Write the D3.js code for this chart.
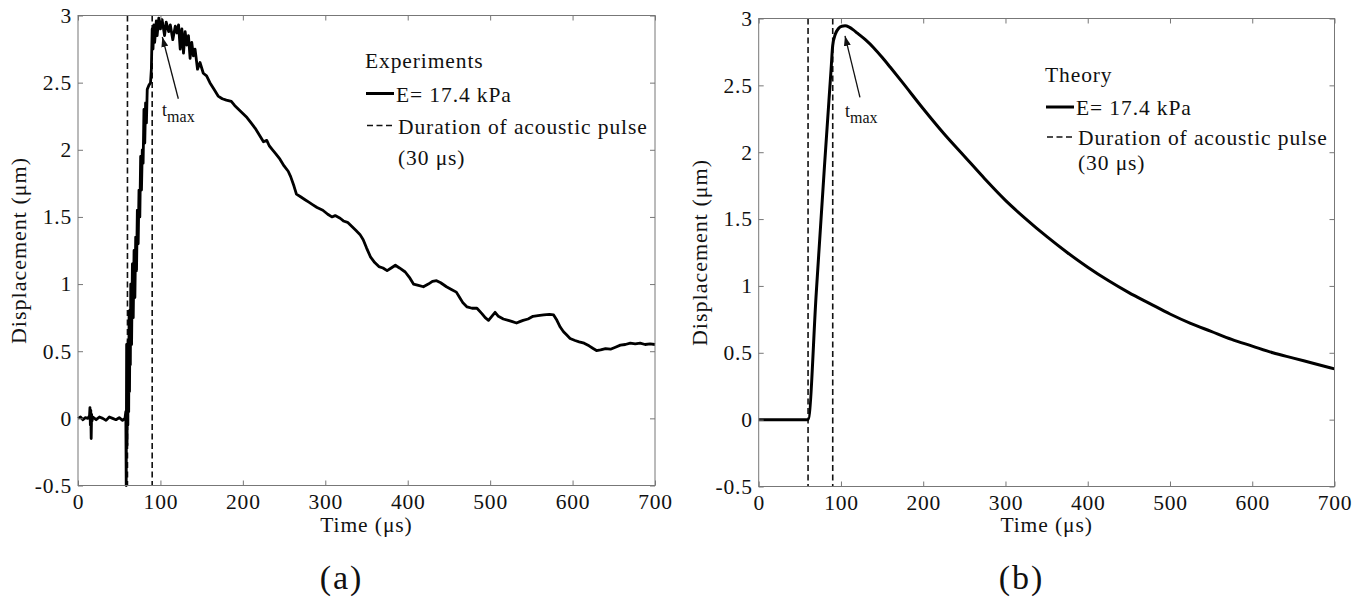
<!DOCTYPE html>
<html>
<head>
<meta charset="utf-8">
<script src="https://cdn.jsdelivr.net/npm/d3@7/dist/d3.min.js"></script>
<style>
  body { margin: 0; background: #fff; }
  svg text { font-family: "Liberation Serif", "Times New Roman", serif; fill: #111; }
</style>
</head>
<body>
<svg id="fig" width="1369" height="604"></svg>
<script>
// 刻度
const xTicks = [0, 100, 200, 300, 400, 500, 600, 700];
const yTicks = [-0.5, 0, 0.5, 1, 1.5, 2, 2.5, 3];
const yTickLabels = ["-0.5", "0", "0.5", "1", "1.5", "2", "2.5", "3"];

// 声脉冲起止时间 (μs)
const pulseLines = [60, 90];

// 实验曲线 [时间 μs, 位移 μm]
const experimentData = [
  [0, 0], [3, 0.01], [6, -0.01], [9, 0.005], [12, 0], [14, 0.02], [14.5, 0.08], [15, -0.05],
  [15.5, 0.06], [16, -0.15], [16.5, 0.03], [17, -0.02], [18, 0.01], [22, -0.01], [26, 0.01],
  [30, 0], [34, -0.015], [38, 0.01], [42, 0], [46, -0.01], [50, 0.005], [54, -0.015], [57, 0],
  [58, 0.05], [58.5, -0.5], [59, 0.55], [59.5, -0.2], [60, 0.5], [60.5, -0.05], [61, 0.58],
  [61.5, 0.05], [62, 0.8], [62.5, 0.2], [63, 0.7], [63.5, 0.4], [64, 1.0], [65, 0.55], [66, 1.15],
  [67, 0.75], [68, 1.25], [69, 0.9], [70, 1.35], [71, 1.1], [72, 1.55], [73, 1.3], [74, 1.7],
  [75, 1.5], [76, 1.95], [77, 1.7], [78, 2.0], [79, 1.9], [80, 2.3], [81, 2.05], [82, 2.35],
  [83, 2.2], [84, 2.45], [86, 2.48], [88, 2.5], [89, 2.6], [90, 2.9], [91, 2.75], [92, 2.93],
  [93, 2.8], [95, 2.96], [96, 2.85], [98, 2.98], [100, 2.9], [102, 2.97], [105, 2.85], [107, 2.95],
  [110, 2.88], [112, 2.93], [115, 2.82], [118, 2.92], [120, 2.87], [122, 2.93], [124, 2.75],
  [126, 2.9], [128, 2.72], [130, 2.88], [132, 2.78], [134, 2.85], [136, 2.68], [138, 2.8],
  [140, 2.7], [142, 2.75], [145, 2.6], [148, 2.65], [152, 2.57], [156, 2.55], [160, 2.5],
  [165, 2.45], [170, 2.4], [175, 2.38], [180, 2.37], [186, 2.36], [190, 2.33], [195, 2.3],
  [200, 2.27], [205, 2.24], [210, 2.2], [215, 2.16], [220, 2.11], [225, 2.06], [229, 2.07],
  [232, 2.03], [236, 2.0], [240, 1.97], [245, 1.93], [250, 1.88], [255, 1.84], [258, 1.8],
  [262, 1.73], [265, 1.67], [270, 1.65], [275, 1.63], [280, 1.61], [285, 1.59], [290, 1.57],
  [297, 1.55], [303, 1.52], [308, 1.5], [312, 1.51], [318, 1.49], [322, 1.47], [327, 1.46],
  [332, 1.43], [337, 1.4], [342, 1.37], [346, 1.33], [350, 1.27], [355, 1.2], [360, 1.16],
  [365, 1.13], [370, 1.12], [375, 1.1], [380, 1.12], [385, 1.14], [390, 1.12], [397, 1.09],
  [402, 1.05], [407, 1.0], [413, 0.99], [419, 0.98], [425, 1.0], [430, 1.02], [435, 1.025],
  [440, 1.01], [447, 0.98], [453, 0.96], [459, 0.94], [463, 0.9], [467, 0.86], [472, 0.83],
  [478, 0.82], [484, 0.82], [490, 0.78], [494, 0.75], [498, 0.73], [502, 0.76], [506, 0.79],
  [510, 0.76], [516, 0.74], [522, 0.73], [527, 0.72], [532, 0.71], [536, 0.72], [540, 0.73],
  [546, 0.74], [552, 0.76], [558, 0.765], [565, 0.77], [572, 0.775], [577, 0.77], [581, 0.73],
  [585, 0.68], [589, 0.645], [593, 0.62], [597, 0.595], [603, 0.58], [608, 0.57], [614, 0.56],
  [620, 0.54], [625, 0.52], [629, 0.505], [634, 0.51], [640, 0.52], [646, 0.515], [652, 0.53],
  [658, 0.545], [664, 0.55], [670, 0.56], [676, 0.555], [682, 0.56], [688, 0.55], [694, 0.555],
  [700, 0.55]
];

// 理论曲线 [时间 μs, 位移 μm]
const theoryData = [
  [0, 0], [60, 0], [70, 0.95], [80, 1.9], [88, 2.62], [90, 2.8], [93, 2.88], [97, 2.925],
  [101, 2.942], [105, 2.945], [110, 2.935], [115, 2.915], [120, 2.89], [130, 2.84], [140, 2.78],
  [150, 2.71], [160, 2.635], [175, 2.52], [200, 2.325], [225, 2.14], [250, 1.97], [275, 1.8],
  [300, 1.64], [325, 1.5], [350, 1.37], [375, 1.25], [400, 1.14], [425, 1.04], [450, 0.95],
  [475, 0.87], [500, 0.79], [525, 0.72], [550, 0.66], [575, 0.6], [600, 0.55], [625, 0.5],
  [650, 0.46], [675, 0.42], [700, 0.38]
];

// t_max 标注 (数据坐标)
const arrowA = { head: [102.3, 2.84], tail: [121.7, 2.38], label: [102, 2.25] };
const arrowB = { head: [104.9, 2.87], tail: [123.1, 2.41], label: [104.9, 2.26] };

// 面板布局
const panelA = {
  x0: 78, x1: 655, y0: 15.5, y1: 485.5,
  data: experimentData, curve: d3.curveLinear, lineWidth: 2.8,
  arrow: arrowA, tag: "(a)", yLabelX: 26,
  legend: { title: "Experiments", x: 365, y: 68, rows: [101.5, 133.5, 165] }
};
const panelB = {
  x0: 758.7, x1: 1334.5, y0: 18.5, y1: 486.5,
  data: theoryData, curve: d3.curveMonotoneX, lineWidth: 3,
  arrow: arrowB, tag: "(b)", yLabelX: 707,
  legend: { title: "Theory", x: 1045, y: 82, rows: [115, 145, 170] }
};

const fontSize = "21.5px";
let svg;

function initChart() {
  svg = d3.select("#fig");

  // 箭头
  svg.append("defs").append("marker")
    .attr("id", "arrowhead")
    .attr("viewBox", "0 0 10 7")
    .attr("refX", 10)
    .attr("refY", 3.5)
    .attr("markerWidth", 10)
    .attr("markerHeight", 7)
    .attr("markerUnits", "userSpaceOnUse")
    .attr("orient", "auto")
    .append("path")
    .attr("d", "M0,0 L10,3.5 L0,7 z")
    .attr("fill", "#111");

  drawPanel(panelA);
  drawPanel(panelB);
}

function drawPanel(cfg) {
  const x = d3.scaleLinear().domain([0, 700]).range([cfg.x0, cfg.x1]);
  const y = d3.scaleLinear().domain([-0.5, 3]).range([cfg.y1, cfg.y0]);
  const g = svg.append("g");
  const midX = (cfg.x0 + cfg.x1) / 2;
  const midY = (cfg.y0 + cfg.y1) / 2;

  // 脉冲虚线
  g.selectAll(".pulse")
    .data(pulseLines)
    .enter()
    .append("line")
    .attr("class", "pulse")
    .attr("x1", d => x(d))
    .attr("x2", d => x(d))
    .attr("y1", cfg.y0)
    .attr("y2", cfg.y1)
    .attr("stroke", "#111")
    .attr("stroke-width", 1.6)
    .attr("stroke-dasharray", "6,3.5");

  // 曲线
  const line = d3.line()
    .x(d => x(d[0]))
    .y(d => y(d[1]))
    .curve(cfg.curve);
  g.append("path")
    .datum(cfg.data)
    .attr("d", line)
    .attr("fill", "none")
    .attr("stroke", "#000")
    .attr("stroke-width", cfg.lineWidth)
    .attr("stroke-linejoin", "round");

  // 边框
  g.append("rect")
    .attr("x", cfg.x0)
    .attr("y", cfg.y0)
    .attr("width", cfg.x1 - cfg.x0)
    .attr("height", cfg.y1 - cfg.y0)
    .attr("fill", "none")
    .attr("stroke", "#777")
    .attr("stroke-width", 1);

  // 坐标轴
  const bottom = g.append("g")
    .attr("transform", `translate(0,${cfg.y1})`)
    .call(d3.axisBottom(x).tickValues(xTicks).tickSizeInner(-5).tickSizeOuter(0).tickPadding(8).tickFormat(d3.format("d")));
  const left = g.append("g")
    .attr("transform", `translate(${cfg.x0},0)`)
    .call(d3.axisLeft(y).tickValues(yTicks).tickSizeInner(-5).tickSizeOuter(0).tickPadding(6).tickFormat((d, i) => yTickLabels[i]));
  const top = g.append("g")
    .attr("transform", `translate(0,${cfg.y0})`)
    .call(d3.axisTop(x).tickValues(xTicks).tickSizeInner(-5).tickSizeOuter(0).tickFormat(""));
  const right = g.append("g")
    .attr("transform", `translate(${cfg.x1},0)`)
    .call(d3.axisRight(y).tickValues(yTicks).tickSizeInner(-5).tickSizeOuter(0).tickFormat(""));

  [bottom, left, top, right].forEach(a => {
    a.select(".domain").remove();
    a.selectAll(".tick line").attr("stroke", "#777");
    a.selectAll(".tick text")
      .style("font-family", "'Liberation Serif', serif")
      .style("font-size", fontSize)
      .style("letter-spacing", "0.8px")
      .attr("fill", "#111");
  });

  // 轴标题
  g.append("text")
    .attr("x", midX)
    .attr("y", 532)
    .attr("text-anchor", "middle")
    .style("font-size", fontSize)
    .style("letter-spacing", "0.9px")
    .text("Time (μs)");
  g.append("text")
    .attr("transform", `translate(${cfg.yLabelX},${midY}) rotate(-90)`)
    .attr("text-anchor", "middle")
    .style("font-size", "22px")
    .style("letter-spacing", "1px")
    .text("Displacement (μm)");

  // 子图编号
  g.append("text")
    .attr("x", midX - 25)
    .attr("y", 589)
    .attr("text-anchor", "middle")
    .style("font-size", "34px")
    .style("letter-spacing", "2px")
    .text(cfg.tag);

  // 图例
  const lg = cfg.legend;
  g.append("text")
    .attr("x", lg.x)
    .attr("y", lg.y)
    .style("font-size", fontSize)
    .style("letter-spacing", "0.9px")
    .text(lg.title);
  g.append("line")
    .attr("x1", lg.x + 1).attr("x2", lg.x + 29)
    .attr("y1", lg.rows[0] - 8).attr("y2", lg.rows[0] - 8)
    .attr("stroke", "#000").attr("stroke-width", 3);
  g.append("text")
    .attr("x", lg.x + 31)
    .attr("y", lg.rows[0])
    .style("font-size", fontSize)
    .style("letter-spacing", "0.9px")
    .text("E= 17.4 kPa");
  g.append("line")
    .attr("x1", lg.x + 2).attr("x2", lg.x + 30)
    .attr("y1", lg.rows[1] - 8).attr("y2", lg.rows[1] - 8)
    .attr("stroke", "#111").attr("stroke-width", 1.4)
    .attr("stroke-dasharray", "6,3.5");
  g.append("text")
    .attr("x", lg.x + 33)
    .attr("y", lg.rows[1])
    .style("font-size", fontSize)
    .style("letter-spacing", "0.9px")
    .text("Duration of acoustic pulse");
  g.append("text")
    .attr("x", lg.x + 33)
    .attr("y", lg.rows[2])
    .style("font-size", fontSize)
    .style("letter-spacing", "0.9px")
    .text("(30 μs)");

  // t_max 标注
  const ar = cfg.arrow;
  g.append("line")
    .attr("x1", x(ar.tail[0]))
    .attr("y1", y(ar.tail[1]))
    .attr("x2", x(ar.head[0]))
    .attr("y2", y(ar.head[1]))
    .attr("stroke", "#111")
    .attr("stroke-width", 1.3)
    .attr("marker-end", "url(#arrowhead)");
  const t = g.append("text")
    .attr("x", x(ar.label[0]))
    .attr("y", y(ar.label[1]))
    .style("font-size", "18px");
  t.append("tspan").text("t");
  t.append("tspan")
    .attr("dy", 6)
    .style("font-size", "16px")
    .text("max");
}

document.addEventListener("DOMContentLoaded", initChart);
</script>
</body>
</html>
